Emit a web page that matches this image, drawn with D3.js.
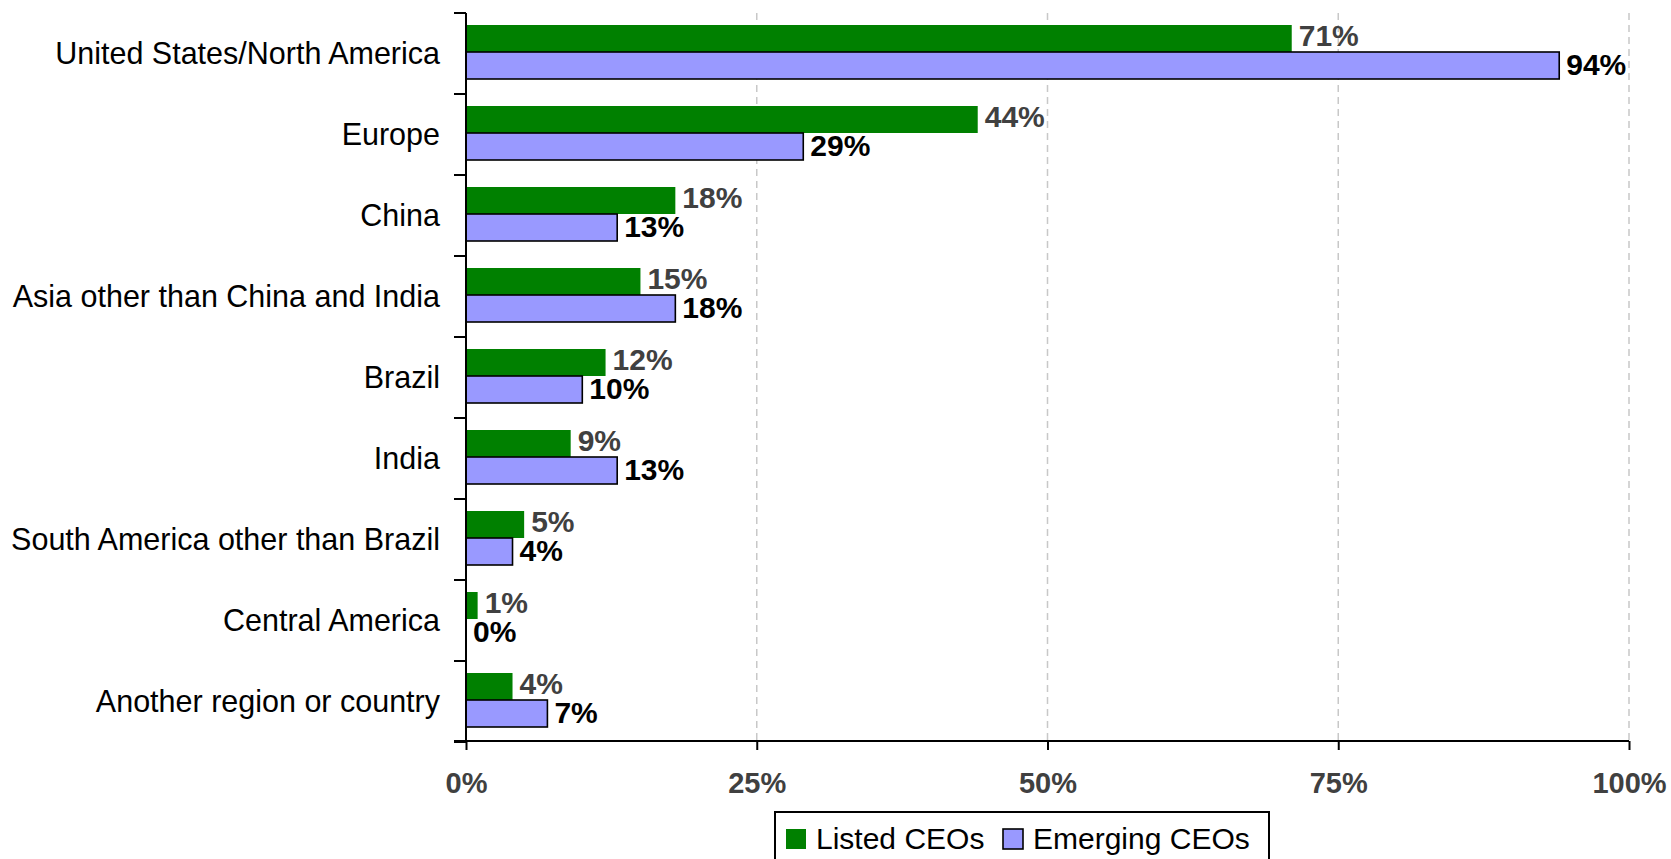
<!DOCTYPE html>
<html>
<head>
<meta charset="utf-8">
<script src="https://cdn.jsdelivr.net/npm/d3@7"></script>
<style>
  html, body { margin: 0; padding: 0; background: #fff; }
  svg { display: block; font-family: "Liberation Sans", Arial, sans-serif; }
</style>
</head>
<body>
<svg id="chart" width="1671" height="859"></svg>
<script>
// Regions where CEOs see growth, share of respondents
const categories = [
  "United States/North America",
  "Europe",
  "China",
  "Asia other than China and India",
  "Brazil",
  "India",
  "South America other than Brazil",
  "Central America",
  "Another region or country"
];
const listedCEOs   = [71, 44, 18, 15, 12, 9, 5, 1, 4];
const emergingCEOs = [94, 29, 13, 18, 10, 13, 4, 0, 7];
const seriesNames  = ["Listed CEOs", "Emerging CEOs"];
const xTicks       = [0, 25, 50, 75, 100];

const series = [
  { key: "listed",   name: seriesNames[0], values: listedCEOs,   fill: "#008000", stroke: "none",    label: "#404040", lift: 3 },
  { key: "emerging", name: seriesNames[1], values: emergingCEOs, fill: "#9999FF", stroke: "#000000", label: "#000000", lift: 1.5 }
];

const svg = d3.select("#chart");
const plot = { left: 466, right: 1629, top: 13, bottom: 742 };

const x = d3.scaleLinear().domain([0, 100]).range([plot.left, plot.right]);
const y = d3.scaleBand().domain(categories).range([plot.top, plot.bottom])
  .paddingInner(1 / 3).paddingOuter(1 / 6);
const ySub = d3.scaleBand().domain(series.map(s => s.key)).range([0, y.bandwidth()]);

// dashed vertical gridlines
svg.append("g").selectAll("line").data(xTicks.filter(t => t > 0)).join("line")
  .attr("x1", d => x(d)).attr("x2", d => x(d))
  .attr("y1", plot.top).attr("y2", plot.bottom)
  .attr("stroke", "#c8c8c8").attr("stroke-width", 1.5)
  .attr("stroke-dasharray", "7,5");

// bars
const groups = svg.append("g").selectAll("g").data(categories).join("g")
  .attr("transform", d => `translate(0,${y(d) - 1.5})`);

series.forEach(s => {
  groups.append("rect")
    .attr("x", x(0))
    .attr("y", ySub(s.key))
    .attr("width", (d, i) => x(s.values[i]) - x(0))
    .attr("height", ySub.bandwidth())
    .attr("fill", s.fill)
    .attr("stroke", (d, i) => s.values[i] > 0 ? s.stroke : "none")
    .attr("stroke-width", 1.6);

  groups.append("text")
    .attr("x", (d, i) => x(s.values[i]) + 7)
    .attr("y", ySub(s.key) + ySub.bandwidth() / 2 - s.lift)
    .attr("dy", "0.36em")
    .attr("font-size", 30).attr("font-weight", "bold")
    .attr("fill", s.label)
    .text((d, i) => s.values[i] + "%");
});

// y axis with boundary ticks between categories
const step = y.step();
const y0 = y.range()[0];
const boundaries = d3.range(categories.length + 1).map(i => y0 + i * step);
const yAxis = svg.append("g");
yAxis.append("line")
  .attr("x1", x(0)).attr("x2", x(0))
  .attr("y1", plot.top).attr("y2", plot.bottom)
  .attr("stroke", "#000").attr("stroke-width", 2);
yAxis.selectAll("line.tick").data(boundaries).join("line").attr("class", "tick")
  .attr("x1", x(0) - 12).attr("x2", x(0))
  .attr("y1", d => d).attr("y2", d => d)
  .attr("stroke", "#000").attr("stroke-width", 2);
yAxis.selectAll("text").data(categories).join("text")
  .attr("x", 440)
  .attr("y", d => y(d) + y.bandwidth() / 2)
  .attr("dy", "0.36em")
  .attr("text-anchor", "end")
  .attr("font-size", 30.5).attr("fill", "#000")
  .text(d => d);

// x axis
const xAxis = d3.axisBottom(x).tickValues(xTicks).tickSize(9).tickPadding(22)
  .tickFormat(d => d + "%");
const gx = svg.append("g").attr("transform", `translate(0,${plot.bottom - 1})`).call(xAxis);
gx.select(".domain").remove();
gx.append("line")
  .attr("x1", x(0) - 12).attr("x2", plot.right)
  .attr("stroke", "#000").attr("stroke-width", 2);
gx.selectAll(".tick line").attr("stroke", "#000").attr("stroke-width", 2);
gx.selectAll(".tick text")
  .attr("font-family", "\"Liberation Sans\", Arial, sans-serif")
  .attr("font-size", 29).attr("font-weight", "bold").attr("fill", "#404040");

// legend
const legend = svg.append("g");
legend.append("rect")
  .attr("x", 775).attr("y", 812).attr("width", 494).attr("height", 60)
  .attr("fill", "#fff").attr("stroke", "#000").attr("stroke-width", 2);
const legendItems = [
  { s: series[0], sx: 786, tx: 816 },
  { s: series[1], sx: 1003, tx: 1033 }
];
legendItems.forEach(it => {
  legend.append("rect")
    .attr("x", it.sx).attr("y", 829).attr("width", 20).attr("height", 20)
    .attr("fill", it.s.fill)
    .attr("stroke", it.s.stroke === "none" ? "none" : it.s.stroke)
    .attr("stroke-width", 1.6);
  legend.append("text")
    .attr("x", it.tx).attr("y", 849)
    .attr("font-size", 30).attr("fill", "#000")
    .text(it.s.name);
});
</script>
</body>
</html>
